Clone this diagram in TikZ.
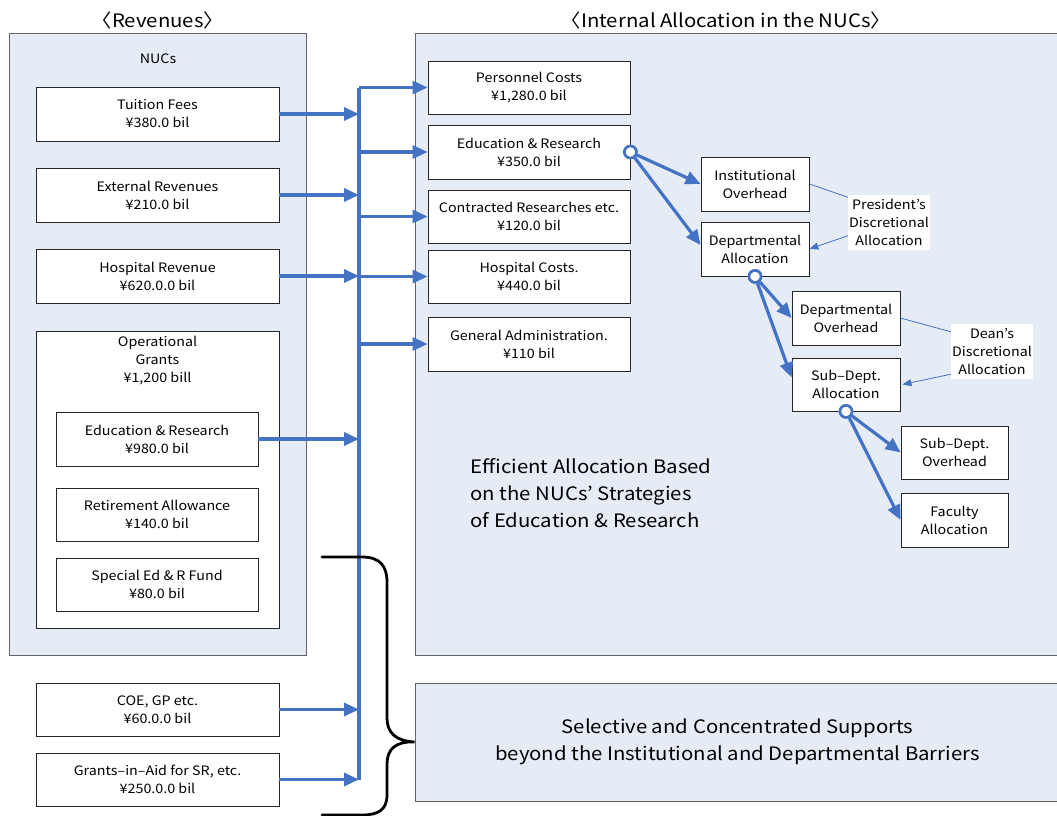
\documentclass[tikz,border=0pt]{standalone}
\usepackage{fontspec}
\setmainfont{Noto Sans CJK JP}[FakeStretch=1.1]
\usetikzlibrary{arrows.meta}
\definecolor{flowblue}{RGB}{68,114,196}
\definecolor{panelfill}{RGB}{230,236,246}
\definecolor{edgegray}{RGB}{100,100,100}
\newcommand\boxtxt{\fontsize{13}{18}\selectfont}
\newcommand\bigtxt{\fontsize{18.5}{27}\selectfont}

\begin{document}
\begin{tikzpicture}[x=1pt,y=-1pt,
  panel/.style={draw=edgegray, fill=panelfill, line width=0.8pt, inner sep=0pt},
  box/.style={draw=black!85, fill=white, line width=0.8pt, inner sep=0pt,
    align=center, font=\boxtxt},
  wbox/.style={box, minimum width=243pt, minimum height=54pt},
  mbox/.style={box, minimum width=202pt, minimum height=54pt},
  sbox/.style={box, minimum width=108pt, minimum height=54pt},
  note/.style={fill=white, inner sep=1pt, minimum width=76pt, minimum height=55pt,
    align=center, font=\boxtxt},
  flow/.style={draw=flowblue, line width=3.2pt, -{Triangle[length=15pt,width=13pt]}},
  busline/.style={draw=flowblue, line width=3.2pt},
  ring/.style={circle, draw=flowblue, fill=white, line width=2.6pt,
    minimum size=12pt, inner sep=0pt},
  thinlink/.style={draw=flowblue, line width=0.8pt},
  thinarrow/.style={thinlink, -{Triangle[length=9pt,width=7pt]}},
  brace/.style={draw=black, line width=2.8pt, line cap=round}
]
\clip (0,0) rectangle (1057,816);
\useasboundingbox (0,0) rectangle (1057,816);
\fill[white] (0,0) rectangle (1057,816);

% headings
\node[font=\bigtxt] (revtitle) at (158,20) {〈Revenues〉};
\node[font=\bigtxt] (alloctitle) at (726,20) {〈Internal Allocation in the NUCs〉};

% background panels
\node[panel, minimum width=297pt, minimum height=622pt] (rev) at (157.5,344) {};
\node[panel, minimum width=645pt, minimum height=622pt] (alloc) at (737.5,344) {};
\node[panel, minimum width=645pt, minimum height=118pt, align=center, font=\bigtxt]
  (sel) at (737.5,742) {Selective and Concentrated Supports\\beyond the Institutional and Departmental Barriers};

\node[font=\boxtxt] (nucs) at (158,59) {NUCs};

% revenue boxes
\node[wbox] (tf) at (157.5,114) {Tuition Fees\\¥380.0 bil};
\node[wbox] (ex) at (157.5,195) {External Revenues\\¥210.0 bil};
\node[wbox] (hr) at (157.5,276) {Hospital Revenue\\¥620.0.0 bil};
\node[box, minimum width=243pt, minimum height=297pt] (og) at (157.5,479.5) {};
\node[font=\boxtxt, align=center] (ogtext) at (157.5,361) {Operational\\Grants\\¥1,200 bill};
\node[mbox] (ge) at (157,439) {Education \& Research\\¥980.0 bil};
\node[mbox, minimum height=53pt] (ra) at (157,514.5) {Retirement Allowance\\¥140.0 bil};
\node[mbox, minimum height=53pt] (sf) at (157,584.5) {Special Ed \& R Fund\\¥80.0 bil};
\node[wbox, minimum height=53pt] (coe) at (157.5,709.5) {COE, GP etc.\\¥60.0.0 bil};
\node[wbox, minimum height=53pt] (gia) at (157.5,779.5) {Grants–in–Aid for SR, etc.\\¥250.0.0 bil};

% allocation boxes
\node[mbox, minimum height=53pt] (pc) at (529,87.5) {Personnel Costs\\¥1,280.0 bil};
\node[mbox] (er) at (529,152) {Education \& Research\\¥350.0 bil};
\node[mbox, minimum height=53pt] (cr) at (529,216.5) {Contracted Researches etc.\\¥120.0 bil};
\node[mbox, minimum height=53pt] (hc) at (529,276.5) {Hospital Costs.\\¥440.0 bil};
\node[mbox] (ga) at (529,344) {General Administration.\\¥110 bil};

\node[sbox] (io) at (755,184) {Institutional\\Overhead};
\node[sbox] (da) at (755,249) {Departmental\\Allocation};
\node[sbox] (do) at (846,318) {Departmental\\Overhead};
\node[sbox, minimum height=53pt] (sa) at (846,384.5) {Sub–Dept.\\Allocation};
\node[sbox, minimum width=107pt, minimum height=53pt] (so) at (954.5,452.5) {Sub–Dept.\\Overhead};
\node[sbox, minimum width=107pt] (fa) at (954.5,520) {Faculty\\Allocation};

\node[note] (pl) at (889,222) {President’s\\Discretional\\Allocation};
\node[note] (dl) at (992,351.5) {Dean’s\\Discretional\\Allocation};

\node[font=\bigtxt, align=left, anchor=west] (eff) at (467,493)
  {Efficient Allocation Based\\on the NUCs’ Strategies\\of Education \& Research};

% distribution bus
\coordinate (bus) at (359,0);
\draw[busline] (pc.west -| bus) -- (gia.east -| bus);
\foreach \src in {tf,ex,hr,ge,coe,gia}
  \draw[flow] (\src.east) -- (\src.east -| bus);
\foreach \dst in {pc,er,cr,hc,ga}
  \draw[flow] (\dst.west -| bus) -- (\dst.west);

% internal allocation chain
\node[ring] (c1) at (er.east) {};
\node[ring] (c2) at (da.south) {};
\node[ring] (c3) at (sa.south) {};
\draw[flow] (c1) -- (io.west);
\draw[flow] (c1) -- ([yshift=4pt]da.west);
\draw[flow] (c2) -- (do.west);
\draw[flow] (c2) -- ([yshift=7pt]sa.west);
\draw[flow] (c3) -- (so.west);
\draw[flow] (c3) -- (fa.west);
\node[ring] at (c1) {};
\node[ring] at (c2) {};
\node[ring] at (c3) {};

% discretional links
\draw[thinlink] (io.east) -- ([yshift=-3pt]pl.north west);
\draw[thinarrow] ([yshift=14pt]pl.south west) -- (da.east);
\draw[thinlink] (do.east) -- ([yshift=-8pt]dl.north west);
\draw[thinarrow] ([yshift=5pt]dl.south west) -- ([xshift=2pt]sa.east);

% brace grouping the competitive funds
\draw[brace] (322,557) -- (362,557) .. controls (380,557) and (387,566) .. (387,582)
  -- (387,718) .. controls (387,733) and (396,741) .. (sel.west)
  .. controls (396,741) and (387,749) .. (387,764)
  -- (387,795) .. controls (387,810) and (378,815) .. (362,815) -- (322,815);
\end{tikzpicture}
\end{document}
